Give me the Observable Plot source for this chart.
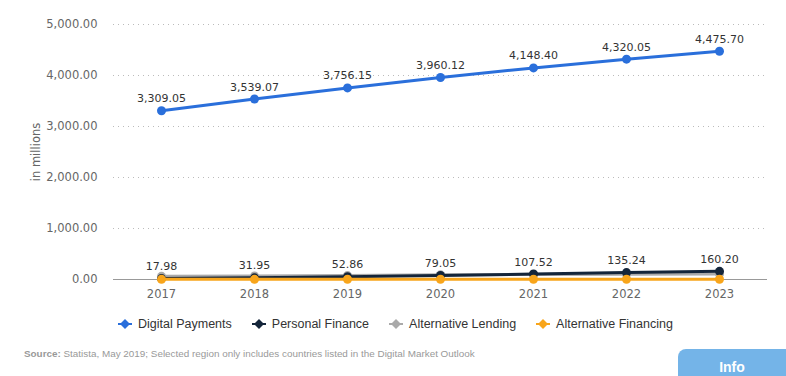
<!DOCTYPE html>
<html><head><meta charset="utf-8">
<script src="https://cdn.jsdelivr.net/npm/d3@7"></script>
<script src="https://cdn.jsdelivr.net/npm/@observablehq/plot@0.6"></script>
<style>
body{margin:0;background:#fff;font-family:"Liberation Sans",Arial,sans-serif;width:786px;height:376px;overflow:hidden;position:relative}
#legend{position:absolute;left:118px;top:317px;display:flex;gap:20px;font-size:12.5px;color:#333}
#legend span.item{display:flex;align-items:center}
#legend svg{margin-right:6px}
#source{position:absolute;left:24px;top:348px;font-size:9.9px;color:#999}
#info{position:absolute;left:678px;top:349px;width:108px;height:27px;background:#74b4e8;border-top-left-radius:8px;color:#fff;font-weight:bold;font-size:14px;text-align:center;line-height:36px}
</style></head><body>
<div id="chart"></div>
<div id="legend"></div>
<div id="source"><b>Source:</b> Statista, May 2019; Selected region only includes countries listed in the Digital Market Outlook</div>
<div id="info">Info</div>
<script>
const years = ["2017","2018","2019","2020","2021","2022","2023"];
const digitalPayments = [3309.05,3539.07,3756.15,3960.12,4148.40,4320.05,4475.70];
const personalFinance = [17.98,31.95,52.86,79.05,107.52,135.24,160.20];
const alternativeLending = [62,68,76,92,98,104,110];
const alternativeFinancing = [3,3.5,4,4.5,5,5.5,6];
const seriesNames = ["Digital Payments","Personal Finance","Alternative Lending","Alternative Financing"];
const seriesColors = ["#2a6fdb","#14253a","#aaaaaa","#f8a51b"];
const yTicks = [0,1000,2000,3000,4000,5000];

const allValues = [digitalPayments, personalFinance, alternativeLending, alternativeFinancing];
const rows = [];
allValues.forEach((vals,si)=>vals.forEach((v,i)=>rows.push({year:years[i],value:v,series:seriesNames[si]})));
const drawOrder = ["Alternative Lending","Personal Finance","Alternative Financing","Digital Payments"];
const fmt = d3.format(",.2f");
const marks = [
  Plot.gridY(yTicks.filter(d=>d>0), {stroke:"#bbb", strokeOpacity:1, strokeDasharray:"1,4"}),
  Plot.ruleY([0], {stroke:"#999"}),
];
for (const s of drawOrder) {
  const d = rows.filter(r=>r.series===s);
  marks.push(Plot.line(d,{x:"year",y:"value",stroke:()=>s,strokeWidth:3,curve:"linear"}));
  marks.push(Plot.dot(d,{x:"year",y:"value",fill:()=>s,r:4.5}));
}
const labelled = rows.filter(r=>r.series==="Digital Payments"||r.series==="Personal Finance");
marks.push(Plot.text(labelled,{x:"year",y:"value",text:d=>fmt(d.value),dy:-12,fill:"#333",fontSize:11}));

const chart = Plot.plot({
  width:786, height:300,
  marginTop:24, marginBottom:21, marginLeft:113, marginRight:19,
  style:{fontFamily:"DejaVu Sans, sans-serif", fontSize:"11.5px", color:"#666", background:"#fff"},
  x:{type:"point", domain:years, padding:0.5, label:null, tickSize:0, tickPadding:10},
  y:{domain:[0,5000], ticks:yTicks, tickFormat:fmt, tickSize:0, tickPadding:16, label:"in millions", labelAnchor:"center", labelArrow:"none", labelOffset:82},
  color:{domain:seriesNames, range:seriesColors},
  marks
});
document.getElementById("chart").appendChild(chart);

const lg = document.getElementById("legend");
seriesNames.forEach((n,i)=>{
  const it = document.createElement("span"); it.className="item";
  it.innerHTML = `<svg width="14" height="10"><line x1="0" y1="5" x2="14" y2="5" stroke="${seriesColors[i]}" stroke-width="2"/><path d="M7 0 L12 5 L7 10 L2 5 Z" fill="${seriesColors[i]}"/></svg>${n}`;
  lg.appendChild(it);
});
</script>
</body></html>
